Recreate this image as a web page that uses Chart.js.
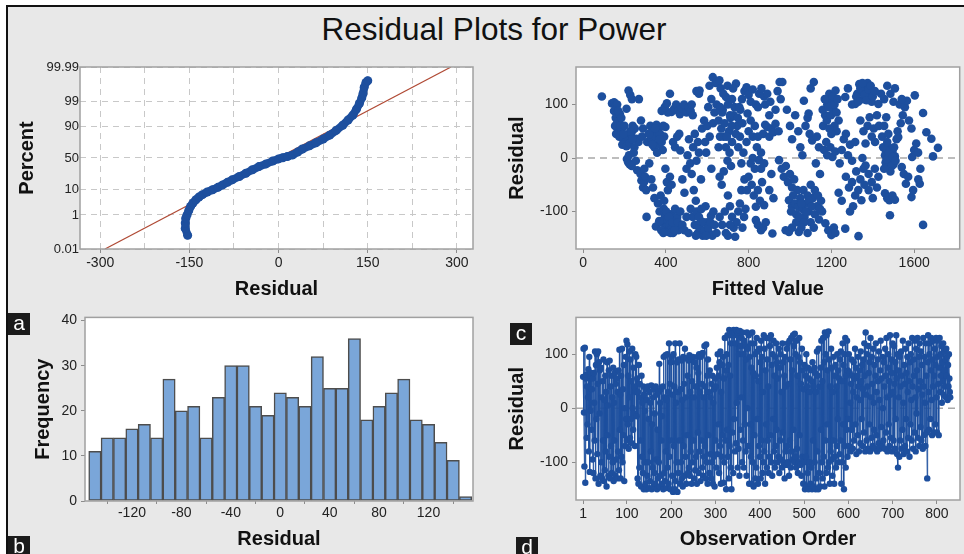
<!DOCTYPE html>
<html>
<head>
<meta charset="utf-8">
<title>Residual Plots for Power</title>
<script src="https://cdn.jsdelivr.net/npm/chart.js@4.4.1/dist/chart.umd.min.js"></script>
<style>
  html, body { margin: 0; padding: 0; background: #fff; }
  body { width: 964px; height: 554px; position: relative; overflow: hidden; font-family: "Liberation Sans", Arial, sans-serif; }
  #sheet { position: absolute; left: 6px; top: 5px; right: 0; bottom: 0; background: #e8e8e8; border-left: 2px solid #111; border-top: 2px solid #111; }
  #title { position: absolute; left: 244px; width: 500px; top: 10px; text-align: center; font-size: 31.5px; line-height: 38px; color: #111; }
  .panel { position: absolute; }
  .tag { position: absolute; width: 22px; height: 22px; background: #1b1b1b; color: #fff; font-size: 21px; line-height: 20px; text-align: center; z-index: 5; }
</style>
</head>
<body>
<div id="sheet"></div>
<div id="title">Residual Plots for Power</div>
<canvas id="probChart" class="panel"></canvas>
<canvas id="fitsChart" class="panel"></canvas>
<canvas id="histChart" class="panel"></canvas>
<canvas id="orderChart" class="panel"></canvas>
<div class="tag" style="left:8px;top:313px;">a</div>
<div class="tag" style="left:8px;top:536px;">b</div>
<div class="tag" style="left:510px;top:323px;">c</div>
<div class="tag" style="left:516px;top:537px;">d</div>

<script>
// ---- values ----

// (a) normal probability plot: ordered residuals and their percent
const probResidual = [-153, -157, -157, -156, -154, -151, -148, -144, -139, -134, -128, -120, -111, -102, -94, -86, -78, -66, -55, -44, -33, -21, -10, 0, 7, 15, 24, 32, 40, 52, 63, 75, 86, 97, 108, 117, 125, 131, 136, 140, 142, 144, 147, 150];
const probPercent = [0.08, 0.2, 0.39, 0.7, 1.0, 1.6, 2.4, 3.3, 4.4, 5.5, 6.7, 8.2, 9.7, 11.5, 13.6, 16, 18.6, 22.5, 26.7, 31.5, 36.3, 40.5, 45, 48.5, 50.5, 52.5, 55, 59.5, 64.3, 69, 73.3, 78, 82.5, 87, 91, 94, 96, 97.7, 98.7, 99.3, 99.57, 99.81, 99.9, 99.92];
// fitted normal line end points
const refResidual = [-292, 290];
const refPercent = [0.01, 99.99];
const probYTicks = [0.01, 1, 10, 50, 90, 99, 99.99];
const probXTicks = [-300, -225, -150, -75, 0, 75, 150, 225, 300];

// (c) residual versus fitted value, [fitted, residual]
const fitPoints = [
  [91,115],[140,102],[150,104],[158,98],[165,100],[150,88],[158,75],[162,62],[168,55],[155,60],[172,70],[178,82],[160,45],[175,40],[185,50],[195,35],[205,30],[215,40],[190,25],[210,22],[225,28],[232,45],[240,52],[210,92],[220,126],[228,118],[236,110],[240,60],[250,55],[228,50],[212,-2],[218,-8],[226,-12],[222,5],[258,36],[262,-23],[248,20],[268,30],[270,110],[280,70],[285,40],[290,55],[278,-30],[282,-42],[290,-55],[295,-45],[300,-35],[305,-60],[307,-110],[296,-20],
  [165,65],[180,60],[170,88],[195,45],[200,60],[185,75],[238,35],[245,10],[255,-5],[235,-15],
  [310,30],[318,45],[325,60],[330,35],[340,50],[345,20],[350,40],[355,62],[360,25],[365,55],[372,45],[380,30],[385,15],[392,40],[398,58],[320,-10],[330,-40],[338,-55],[345,-75],[352,-128],[362,-85],[370,-100],[375,-70],[382,-120],[390,-95],[395,-110],[400,-130],[408,-115],[412,-138],[418,-125],[425,-105],[430,-130],[435,-140],[440,-118],[445,-95],[450,-128],[455,-110],[460,-135],[398,-20],[405,-45],[410,-60],[420,-35],[428,-50],[420,120],[427,86],[410,85],[440,92],[450,100],[460,88],[468,82],[435,30],[445,20],[455,40],[465,45],[470,14],[380,88],[395,95],[405,102],
  [320,45],[335,25],[348,55],[358,10],[370,35],[388,60],[392,-80],[402,-100],[415,-110],[423,-140],[433,-120],[443,-135],[458,-120],[368,-118],[378,-135],[388,-140],
  [478,92],[488,100],[500,85],[510,95],[520,88],[530,80],[525,100],[480,-40],[490,-65],[500,-20],[505,5],[512,35],[518,-10],[525,-30],[532,20],[540,45],[548,-5],[555,30],[560,10],[535,-60],[545,-80],[548,125],[560,120],[563,126],[520,-95],[530,-110],[540,-125],[548,-100],[555,-140],[562,-130],[570,-118],[578,-145],[585,-135],[592,-90],[600,-120],[610,-140],[618,-108],[625,-145],[630,-100],[570,-40],[575,55],[585,70],[590,30],[600,60],[605,95],[595,10],[612,40],[620,-20],[628,65],[635,85],[611,135],[627,151],[640,140],[620,110],
  [470,-100],[480,-125],[490,-135],[500,-110],[510,-140],[545,-145],[560,-110],[572,-95],[582,-120],[595,-145],[605,-130],[615,-120],[635,-125],[645,-140],
  [650,140],[659,145],[665,130],[645,100],[655,70],[668,55],[675,90],[680,40],[690,20],[698,-5],[705,50],[712,75],[720,30],[715,-15],[660,-35],[670,-50],[680,-25],[691,114],[700,100],[710,80],[720,110],[739,139],[732,95],[745,60],[750,20],[758,40],[765,-10],[700,-70],[710,-90],[720,-110],[728,-130],[735,-147],[742,-120],[750,-100],[758,-85],[765,-60],[685,-100],[690,-140],[672,-125],[660,-110],[700,-145],[710,-125],[770,-130],[778,-110],[785,-95],[792,-60],[780,-40],[775,10],[790,30],[800,50],
  [655,20],[662,40],[672,85],[684,65],[695,40],[708,10],[718,60],[728,80],[738,45],[748,75],[760,90],[770,65],[662,95],[678,120],[698,135],[725,130],
  [755,95],[768,110],[780,125],[790,132],[800,118],[810,105],[820,128],[835,100],[845,95],[851,120],[862,130],[875,115],[795,83],[810,70],[820,40],[830,60],[840,20],[850,-4],[860,10],[870,45],[880,62],[890,58],[900,40],[910,55],[920,48],[930,64],[945,50],[800,-35],[815,-50],[825,-70],[835,-91],[845,-60],[855,-80],[865,-45],[875,-88],[835,-116],[845,-125],[860,-135],[870,-130],[883,-120],[915,-141],[900,-60],[910,-30],[920,-75],[950,142],[963,142],[940,125],[955,110],[930,90],
  [900,80],[880,100],[890,120],[905,105],[820,0],[830,-20],[810,-10],[845,40],[860,-20],[875,-10],
  [947,-4],[960,-20],[970,-35],[980,-15],[990,-45],[1000,-30],[1010,-55],[1020,-40],[1035,-60],[995,-79],[1010,-90],[1025,-85],[1040,-91],[979,-135],[995,-138],[1010,-130],[1030,-120],[1043,-138],[1050,-75],[1060,-95],[1070,-110],[1080,-85],[1090,-100],[1100,-120],[1110,-75],[1120,-105],[1130,-90],[1140,-115],[1150,-80],[1155,-100],[1065,-60],[1085,-70],[1100,-50],[1120,-60],[1075,60],[1085,75],[1095,45],[1107,33],[1090,83],[1067,107],[1115,142],[1100,130],[1130,40],[1140,20],[1125,-10],[1145,-30],[1050,20],[1060,5],[1000,60],[1010,35],[1025,80],[1040,50],[985,90],
  [1005,-100],[1015,-70],[1030,-105],[1045,-110],[1055,-85],[1068,-120],[1078,-100],[1092,-80],[1105,-90],[1115,-130],[1135,-70],[1145,-95],[1055,-130],[1085,-140],
  [1160,60],[1170,80],[1180,100],[1190,120],[1200,110],[1210,90],[1220,126],[1235,70],[1225,50],[1200,45],[1215,60],[1165,15],[1180,5],[1195,20],[1205,2],[1219,12],[1171,-122],[1185,-135],[1200,-144],[1212,-130],[1219,-140],[1240,-10],[1250,15],[1260,35],[1270,45],[1280,5],[1290,25],[1300,-5],[1315,30],[1267,114],[1280,130],[1300,100],[1270,-35],[1285,-55],[1300,-45],[1315,-70],[1330,-60],[1345,-79],[1360,-50],[1267,-132],[1331,-146],[1290,-100],[1305,-90],[1250,-80],[1235,-65],[1320,-25],[1340,-40],[1355,-20],
  [1158,90],[1168,110],[1178,70],[1188,95],[1198,80],[1208,115],[1215,100],[1225,85],[1230,110],[1175,30],[1190,55],
  [1315,101],[1325,120],[1335,138],[1345,125],[1355,110],[1365,130],[1375,140],[1385,118],[1395,105],[1340,70],[1355,50],[1365,27],[1375,60],[1385,76],[1395,40],[1405,55],[1411,30],[1350,0],[1365,-14],[1380,-30],[1395,-45],[1410,-20],[1420,-55],[1427,-35],[1380,-60],[1400,-75],[1427,101],[1440,120],[1455,110],[1470,135],[1485,120],[1500,105],[1507,130],[1420,80],[1430,60],[1445,40],[1450,20],
  [1320,115],[1330,105],[1340,130],[1350,140],[1360,118],[1370,108],[1380,128],[1390,135],[1400,115],[1410,125],
  [1459,5],[1465,-10],[1470,14],[1475,0],[1480,-17],[1485,8],[1490,-5],[1495,12],[1500,-12],[1507,3],[1462,-8],[1488,18],[1515,35],[1520,50],[1455,60],[1465,76],[1475,45],[1459,-66],[1470,-75],[1480,-79],[1495,-70],[1507,-78],[1483,-107],[1523,39],[1535,65],[1545,80],[1555,95],[1565,107],[1575,70],[1587,55],[1540,-17],[1550,-30],[1560,-48],[1571,-35],[1587,-73],[1595,-60],[1603,117],[1590,2],[1600,15],[1610,27],[1619,10],[1627,-48],[1643,84],[1643,-125],[1659,48],[1683,36],[1691,3],[1715,19],[1530,100],[1540,110],[1620,-40],[1630,-20],
  [1458,18],[1468,-3],[1478,10],[1492,-15],[1503,20],[1485,-25],[1470,30],[1497,2],[1510,-5],[1455,-20]
];
const fitXTicks = [0, 400, 800, 1200, 1600];
const residTicks = [-100, 0, 100];

// (b) histogram of residuals, bins of width 10
const histCenters = [-150, -140, -130, -120, -110, -100, -90, -80, -70, -60, -50, -40, -30, -20, -10, 0, 10, 20, 30, 40, 50, 60, 70, 80, 90, 100, 110, 120, 130, 140, 150];
const histCounts = [11, 14, 14, 16, 17, 14, 27, 20, 21, 14, 23, 30, 30, 21, 19, 24, 23, 21, 32, 25, 25, 36, 18, 21, 24, 27, 18, 17, 13, 9, 1];
const histXTicks = [-120, -80, -40, 0, 40, 80, 120];
const histYTicks = [0, 10, 20, 30, 40];

// (d) residual versus observation order (observation 1, 2, 3, ...)
const orderResidual = [
  58, 110, -8, -108, 112, -138, 55, 62, -55, 40, -30, 20, 72, -80, 95, -118, 60, -5, 65, -40,
  35, -95, 55, -120, 65, 10, -60, 105, -130, 80, -20, 100, -85, 45, 105, -140, 85, -10, 70, -125,
  75, -100, 20, -130, 50, -60, 90, -135, 15, -115, 60, -80, 30, -145, 85, -50, 5, -125, 70, -90,
  88, -130, 40, -70, 60, -120, 20, -100, 75, -135, 10, -60, 65, -125, 45, -95, 55, -130, 30, -80,
  70, -115, 108, -40, 25, -130, 60, -90, 110, -100, 35, -50, 80, -135, 0, -70, 95, -20, 125, -60,
  118, -30, 60, -75, 105, 20, -55, 90, -20, 50, -65, 110, 0, -40, 75, -10, 40, -70, 100, 30,
  95, -15, 55, -130, 30, -140, 80, -110, 45, -60, 20, -145, 60, -90, 10, -120, 40, -150, 25, -100,
  -5, -140, 35, -150, 15, -125, 40, -100, -20, -148, 30, -135, 10, -80, 42, -150, -30, -110, 20, -145,
  35, -120, -10, -140, 40, -95, 25, -150, -40, -130, 30, -100, 82, -145, 10, -125, 35, -60, -15, -140,
  40, -150, 95, -120, 20, -135, 98, -80, 15, -148, 100, -110, 30, -140, 120, -90, 45, -150, 85, -60,
  95, -125, 25, -155, 100, -70, 40, -150, 120, -135, 10, -100, 85, -155, 30, -120, 90, -60, 120, -140,
  35, -100, 88, -130, 15, -145, 95, -70, 45, -125, 110, -90, 20, -140, 92, -50, 60, -120, 88, -110,
  98, -125, 30, -80, 92, -140, 50, -100, 95, -60, 20, -130, 85, -115, 40, -90, 75, -140, 95, -45,
  65, -120, 100, -80, 30, -135, 95, -60, 45, -110, 102, -125, 20, -90, 115, -70, 40, -130, 118, -100,
  60, -140, 90, -50, 30, -120, 70, -85, 20, -130, 45, -100, 60, -140, 10, -90, 35, -145, 55, -60,
  40, -110, 75, -85, 100, -30, 60, -120, 85, -70, 105, -140, 30, -90, 80, -50, 95, -138, 55, -100,
  130, -60, 70, -150, 100, -40, 135, -90, 80, -130, 145, -70, 60, -110, 120, -150, 135, -45, 142, -120,
  145, -20, 140, -80, 120, -65, 145, 10, 135, -110, 140, -75, 100, -125, 143, -40, 115, 20, 130, -100,
  140, -60, 100, -110, 125, -30, 115, -80, 90, -125, 140, 0, 110, -70, 135, -140, 95, -30, 120, -90,
  75, -140, 140, -100, 65, -145, 120, -50, 100, -130, 60, -110, 130, -20, 105, -140, 50, -70, 110, -90,
  85, -130, 125, -60, 95, -120, 30, -100, 135, -80, 110, -140, 70, -30, 130, -110, 90, -60, 40, -120,
  130, -90, 115, -50, 135, -100, 80, -125, 100, -20, 125, -80, 60, -110, 95, -70, 120, -40, 85, -100,
  55, -90, 110, -120, 75, -60, 100, -95, 30, -110, 120, -45, 85, -100, 60, -130, 95, -80, 40, -105,
  110, -70, 120, -100, 45, -125, 125, -60, 90, -110, 130, -80, 70, -95, 135, -40, 115, -100, 138, -90,
  100, -110, 125, -75, 60, -120, 95, -100, 130, -50, 85, -105, 45, -125, 110, -90, 70, -140, 35, -100,
  80, -150, 60, -90, 100, -145, 40, -120, 75, -150, 55, -100, 30, -140, 70, -110, 50, -150, 85, -60,
  40, -145, 75, -100, 65, -150, 30, -130, 105, -80, 60, -150, 110, -120, 40, -145, 75, -40, 125, -100,
  50, -130, 130, -90, 85, -145, 140, -60, 100, -120, 135, -30, 70, -110, 142, -100, 90, -140, 40, -80,
  110, -95, 75, -125, 30, -60, 95, -140, 60, -90, 80, -110, 40, -70, 100, -20, 70, -100, 55, -85,
  90, -60, 105, -140, 50, -100, 120, -30, 80, -150, 100, -70, 130, -110, 60, -40, 125, -90, 70, -20,
  100, -70, 65, 10, -80, 45, 90, -40, 60, -75, 30, 85, -60, 55, 110, -30, 75, -85, 20, 60,
  -50, 95, 40, -80, 70, 15, -65, 105, 50, -20, 80, -70, 35, 90, -45, 120, 60, -80, 140, 25,
  -60, 100, 40, -75, 115, 65, -30, 85, -80, 130, 20, -55, 95, 45, -70, 110, 10, -40, 80, -75,
  60, 120, -50, 30, -80, 90, 50, -65, 105, 15, -75, 70, 125, -35, 55, -70, 95, 0, -60, 85,
  40, -75, 110, 60, -45, 130, 20, -80, 75, 100, -30, 50, -70, 135, 25, -55, 90, 65, -80, 120,
  30, -60, 115, 45, -75, 85, -20, 135, 55, -85, 100, -110, 70, 20, -90, 95, -60, 40, 105, -75,
  60, -40, 125, 10, -85, 80, 45, -70, 110, -20, 65, -80, 95, 30, -55, 120, 50, -90, 85, -30,
  100, 15, -60, 130, 40, -75, 90, 60, -45, 125, 20, -80, 110, -10, 70, 130, -55, 35, 95, -70,
  120, 50, -35, 105, -60, 80, 25, -75, 130, 40, -50, 95, 10, -70, 120, 60, -45, -130, 85, 135,
  30, -40, 100, 120, -20, 70, 130, 15, -50, 90, 40, 125, -45, 60, 110, -30, 80, 130, 20, -45,
  95, 125, 45, -50, 75, 130, 30, 100, 60, 115, 10, 85, 50, 120, 25, 70, 105, 40, 90, 20,
  110, 60, 95, 15, 80, 40, 100, 55, 30, 20
];
const orderXTicks = [1, 100, 200, 300, 400, 500, 600, 700, 800];

// ---- look ----
const BLUE = '#1d4f9e';
const RED = '#b04a35';
const FRAME = '#a0a0a0';
const tickFont = { family: '"Liberation Sans", Arial, sans-serif', size: 14 };
const titleFont = { family: '"Liberation Sans", Arial, sans-serif', size: 20, weight: 'bold' };

// panel boxes on the page (canvas box, plot area, axis title centres)
const panels = {
    prob:  { left: 10,  top: 50,  width: 470, height: 260, plot: { left: 80,  right: 473, top: 67,  bottom: 249 }, xTitleY: 289, yTitleX: 27 },
    fits:  { left: 484, top: 50,  width: 480, height: 260, plot: { left: 576, right: 963, top: 67,  bottom: 249 }, xTitleY: 289, yTitleX: 517 },
    hist:  { left: 10,  top: 305, width: 470, height: 249, plot: { left: 85,  right: 473, top: 317, bottom: 501 }, xTitleY: 539, yTitleX: 43 },
    order: { left: 484, top: 305, width: 480, height: 249, plot: { left: 576, right: 963, top: 317, bottom: 500 }, xTitleY: 539, yTitleX: 517 }
};

// inverse normal CDF (Acklam), used for the probability axis
function probit(p) {
    const a = [-39.69683028665376, 220.9460984245205, -275.9285104469687, 138.3577518672690, -30.66479806614716, 2.506628277459239];
    const b = [-54.47609879822406, 161.5858368580409, -155.6989798598866, 66.80131188771972, -13.28068155288572];
    const c = [-0.007784894002430293, -0.3223964580411365, -2.400758277161838, -2.549671348201925, 4.374664141464968, 2.938163982698783];
    const d = [0.007784695709041462, 0.3224671290700398, 2.445134137142996, 3.754408661907416];
    const plow = 0.02425;
    if (p < plow || p > 1 - plow) {
        const q = Math.sqrt(-2 * Math.log(p < plow ? p : 1 - p));
        const v = (((((c[0] * q + c[1]) * q + c[2]) * q + c[3]) * q + c[4]) * q + c[5]) /
                  ((((d[0] * q + d[1]) * q + d[2]) * q + d[3]) * q + 1);
        return p < plow ? v : -v;
    }
    const q = p - 0.5, r = q * q;
    return (((((a[0] * r + a[1]) * r + a[2]) * r + a[3]) * r + a[4]) * r + a[5]) * q /
           (((((b[0] * r + b[1]) * r + b[2]) * r + b[3]) * r + b[4]) * r + 1);
}
const toZ = pct => probit(pct / 100);

// white plot background + grey frame around each plot area
const framePlugin = {
    id: 'frame',
    beforeDraw(chart) {
        const a = chart.chartArea;
        chart.ctx.save();
        chart.ctx.fillStyle = '#fff';
        chart.ctx.fillRect(a.left, a.top, a.right - a.left, a.bottom - a.top);
        chart.ctx.restore();
    },
    afterDraw(chart) {
        const a = chart.chartArea;
        chart.ctx.save();
        chart.ctx.strokeStyle = FRAME;
        chart.ctx.lineWidth = 1.5;
        chart.ctx.strokeRect(a.left, a.top, a.right - a.left, a.bottom - a.top);
        chart.ctx.restore();
    }
};

function placeCanvas(id, g) {
    const el = document.getElementById(id);
    el.width = g.width;
    el.height = g.height;
    el.style.left = g.left + 'px';
    el.style.top = g.top + 'px';
    el.style.width = g.width + 'px';
    el.style.height = g.height + 'px';
    return el;
}

function xAxis(g, text, min, max, ticks, extra) {
    return Object.assign({
        type: 'linear', position: 'bottom', min: min, max: max, offset: false,
        afterFit: s => { s.height = g.top + g.height - g.plot.bottom; },
        afterBuildTicks: s => { s.ticks = ticks.map(v => ({ value: v })); },
        border: { display: false },
        grid: { drawOnChartArea: false, tickLength: 4, color: '#8c8c8c' },
        ticks: { color: '#222', font: tickFont, padding: 2, maxRotation: 0, autoSkip: false, callback: v => String(v) },
        title: { display: true, text: text, color: '#111', font: titleFont,
                 padding: { top: 0, bottom: g.height - 12 - (g.xTitleY - g.top) } }
    }, extra || {});
}

function yAxis(g, text, min, max, ticks, extra) {
    return Object.assign({
        type: 'linear', position: 'left', min: min, max: max,
        afterFit: s => { s.width = g.plot.left - g.left; },
        afterBuildTicks: s => { s.ticks = ticks.map(v => ({ value: v })); },
        border: { display: false },
        grid: { drawOnChartArea: false, tickLength: 4, color: '#8c8c8c' },
        ticks: { color: '#222', font: tickFont, padding: 4, autoSkip: false, callback: v => String(v) },
        title: { display: true, text: text, color: '#111', font: titleFont,
                 padding: { top: g.yTitleX - g.left - 12, bottom: 0 } }
    }, extra || {});
}

function baseOptions(g, scales) {
    return {
        responsive: false,
        animation: false,
        events: [],
        layout: { padding: { left: 0, bottom: 0, top: g.plot.top - g.top, right: g.left + g.width - g.plot.right } },
        plugins: { legend: { display: false }, tooltip: { enabled: false } },
        scales: scales
    };
}

// (a) normal probability plot
function buildProbChart() {
    const g = panels.prob;
    const dashGrid = { color: '#c8c8c8', lineWidth: 1, tickLength: 4, drawTicks: true,
                       tickColor: ctx => (ctx.tick && ctx.tick.value % 150 === 0 ? '#8c8c8c' : 'rgba(0,0,0,0)') };
    const x = xAxis(g, 'Residual', -334, 327, probXTicks, {
        grid: dashGrid,
        border: { display: false, dash: [6, 5] }
    });
    x.ticks.callback = v => (v % 150 === 0 ? String(v) : '');
    const y = yAxis(g, 'Percent', toZ(0.01), toZ(99.99), probYTicks.map(toZ), {
        grid: { color: '#c8c8c8', lineWidth: 1, drawTicks: false },
        border: { display: false, dash: [6, 5] }
    });
    y.ticks = { color: '#222', font: { family: tickFont.family, size: 13 }, padding: 1, autoSkip: false,
                callback: (v, i) => String(probYTicks[i]) };

    new Chart(placeCanvas('probChart', g), {
        type: 'scatter',
        data: {
            datasets: [{
                data: probResidual.map((r, i) => ({ x: r, y: toZ(probPercent[i]) })),
                showLine: true, borderColor: BLUE, borderWidth: 8, borderJoinStyle: 'round', borderCapStyle: 'round',
                pointRadius: 4.5, pointBackgroundColor: BLUE, pointBorderWidth: 0, order: 1
            }, {
                data: refResidual.map((r, i) => ({ x: r, y: toZ(refPercent[i]) })),
                showLine: true, borderColor: RED, borderWidth: 1.2, pointRadius: 0, order: 2
            }]
        },
        options: baseOptions(g, { x: x, y: y }),
        plugins: [framePlugin]
    });
}

// (c) residuals versus fits
function buildFitsChart() {
    const g = panels.fits;
    const xMin = -34, xMax = 1820;
    new Chart(placeCanvas('fitsChart', g), {
        type: 'scatter',
        data: {
            datasets: [{
                data: fitPoints.map(p => ({ x: p[0], y: p[1] })),
                pointRadius: 4.3, pointBackgroundColor: BLUE, pointBorderWidth: 0, order: 1
            }, {
                data: [{ x: xMin, y: 0 }, { x: xMax, y: 0 }],
                showLine: true, borderColor: '#a8a8a8', borderWidth: 1.5, borderDash: [7, 5], pointRadius: 0, order: 2
            }]
        },
        options: baseOptions(g, {
            x: xAxis(g, 'Fitted Value', xMin, xMax, fitXTicks),
            y: yAxis(g, 'Residual', -170, 170, residTicks)
        }),
        plugins: [framePlugin]
    });
}

// (b) histogram
function buildHistChart() {
    const g = panels.hist;
    const x = xAxis(g, 'Residual', -158, 156, histXTicks);
    x.grid.tickLength = 3;
    x.ticks.padding = 1;
    new Chart(placeCanvas('histChart', g), {
        type: 'bar',
        data: {
            datasets: [{
                data: histCenters.map((c, i) => ({ x: c, y: histCounts[i] })),
                backgroundColor: '#7aa6d9', borderColor: '#4d4d4d', borderWidth: 1.5, borderSkipped: false,
                barPercentage: 1, categoryPercentage: 1
            }]
        },
        options: baseOptions(g, {
            x: x,
            y: yAxis(g, 'Frequency', 0, 40.7, histYTicks)
        }),
        plugins: [framePlugin]
    });
}

// (d) residuals versus order
function buildOrderChart() {
    const g = panels.order;
    const xMin = -15, xMax = 852;
    new Chart(placeCanvas('orderChart', g), {
        type: 'scatter',
        data: {
            datasets: [{
                data: orderResidual.map((r, i) => ({ x: i + 1, y: r })),
                showLine: true, borderColor: BLUE, borderWidth: 0.9, tension: 0,
                pointRadius: 3.2, pointBackgroundColor: BLUE, pointBorderWidth: 0, order: 1
            }, {
                data: [{ x: xMin, y: 0 }, { x: xMax, y: 0 }],
                showLine: true, borderColor: '#a8a8a8', borderWidth: 1.5, borderDash: [7, 5], pointRadius: 0, order: 2
            }]
        },
        options: baseOptions(g, {
            x: xAxis(g, 'Observation Order', xMin, xMax, orderXTicks),
            y: yAxis(g, 'Residual', -170, 168, residTicks)
        }),
        plugins: [framePlugin]
    });
}

buildProbChart();
buildFitsChart();
buildHistChart();
buildOrderChart();
</script>
</body>
</html>
